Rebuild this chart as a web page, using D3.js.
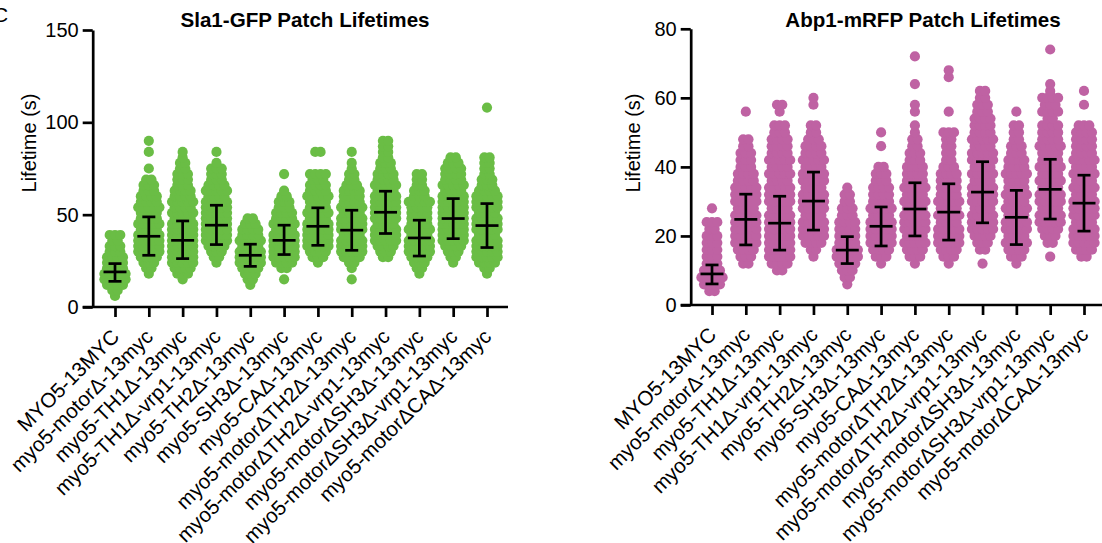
<!DOCTYPE html>
<html>
<head>
<meta charset="utf-8">
<script src="https://cdn.jsdelivr.net/npm/d3@7/dist/d3.min.js"></script>
<style>
  body { margin: 0; background: #fff; }
  svg text { font-family: "Liberation Sans", Arial, Helvetica, sans-serif; }
</style>
</head>
<body>
<div id="chart"></div>
<script>
// strains, same order on both panels
const categories = [
  "MYO5-13MYC",
  "myo5-motorΔ-13myc",
  "myo5-TH1Δ-13myc",
  "myo5-TH1Δ-vrp1-13myc",
  "myo5-TH2Δ-13myc",
  "myo5-SH3Δ-13myc",
  "myo5-CAΔ-13myc",
  "myo5-motorΔTH2Δ-13myc",
  "myo5-motorΔTH2Δ-vrp1-13myc",
  "myo5-motorΔSH3Δ-13myc",
  "myo5-motorΔSH3Δ-vrp1-13myc",
  "myo5-motorΔCAΔ-13myc",
];

const sla1Bins = [6, 9, 12, 15, 18, 21, 24, 27, 30, 33, 36, 39, 42, 45, 48, 51, 54, 57,
  60, 63, 66, 69, 72, 75, 78, 81, 84, 87, 90, 93, 96, 99, 102, 105, 108, 111];
const sla1Counts = [
  [1,2,4,5,5,4,4,4,3,3,2,3, 0,0,0,0,0,0,0,0,0,0,0,0, 0,0,0,0,0,0,0,0,0,0,0,0],
  [0,0,0,0,1,2,3,4,5,5,5,5, 4,5,4,4,5,4,4,3,3,2,0,1, 0,0,1,0,1,0,0,0,0,0,0,0],
  [0,0,0,1,3,4,5,5,5,5,5,5, 5,5,4,5,4,5,4,4,3,3,3,2, 2,1,1,0,0,0,0,0,0,0,0,0],
  [0,0,0,0,0,0,1,2,3,4,5,5, 5,5,5,5,5,5,4,5,4,3,3,3, 1,0,1,0,0,0,0,0,0,0,0,0],
  [0,0,1,2,3,4,5,5,5,4,5,4, 4,3,2,0,0,0,0,0,0,0,0,0, 0,0,0,0,0,0,0,0,0,0,0,0],
  [0,0,0,1,0,2,4,5,5,5,5,5, 4,5,4,4,3,3,2,1,0,0,1,0, 0,0,0,0,0,0,0,0,0,0,0,0],
  [0,0,0,0,0,0,1,3,4,5,5,5, 5,5,4,5,4,4,5,4,4,3,4,0, 0,0,2,0,0,0,0,0,0,0,0,0],
  [0,0,0,1,0,1,2,4,5,5,5,4, 5,5,5,4,5,4,4,4,3,2,2,1, 1,0,1,0,0,0,0,0,0,0,0,0],
  [0,0,0,0,0,0,0,2,3,4,5,5, 5,4,5,5,5,5,5,4,5,4,4,3, 3,2,2,2,2,0,0,0,0,0,0,0],
  [0,0,0,0,1,2,3,4,5,5,5,4, 5,4,4,4,4,5,3,3,2,2,2,0, 0,0,0,0,0,0,0,0,0,0,0,0],
  [0,0,0,0,0,0,1,2,3,4,5,5, 5,5,5,5,5,5,5,4,5,4,4,4, 3,2,0,0,0,0,0,0,0,0,0,0],
  [0,0,0,0,1,2,4,5,5,5,5,4, 5,5,5,4,5,5,5,4,3,3,2,2, 2,2,0,0,0,0,0,0,0,0,1,0],
];
const sla1Median = [19.0, 38.3, 36.1, 44.3, 28.0, 36.1, 43.7, 41.6, 51.3, 37.4, 47.9, 44.1];
const sla1Q1 = [13.9, 28.0, 26.2, 33.8, 22.0, 28.4, 33.4, 30.7, 39.8, 27.6, 37.0, 32.2];
const sla1Q3 = [23.5, 48.8, 46.6, 55.1, 34.0, 44.3, 53.7, 52.4, 62.7, 47.0, 58.7, 56.0];
const sla1Ticks = [0, 50, 100, 150];

// Abp1-mRFP
const abp1Bins = [2, 4, 6, 8, 10, 12, 14, 16, 18, 20, 22, 24, 26, 28, 30, 32, 34, 36, 38,
  40, 42, 44, 46, 48, 50, 52, 54, 56, 58, 60, 62, 64, 66, 68, 70, 72, 74, 76];
const abp1Counts = [
  [0,2,4,5,4,3,3,3,3,3, 2,3,0,1,0,0,0,0,0,0, 0,0,0,0,0,0,0,0,0,0, 0,0,0,0,0,0,0,0],
  [0,0,0,0,0,2,3,4,5,5, 5,5,5,4,5,5,5,4,4,3, 3,3,2,2,0,0,0,1,0,0, 0,0,0,0,0,0,0,0],
  [0,0,0,0,2,4,5,5,5,5, 5,5,5,4,5,5,5,4,5,4, 5,4,4,4,3,3,0,1,2,0, 0,0,0,0,0,0,0,0],
  [0,0,0,0,0,0,1,2,4,5, 5,5,4,5,5,5,4,5,5,4, 5,4,4,3,2,2,0,0,1,1, 0,0,0,0,0,0,0,0],
  [0,0,1,2,3,4,5,5,4,4, 4,4,3,3,2,2,1,0,0,0, 0,0,0,0,0,0,0,0,0,0, 0,0,0,0,0,0,0,0],
  [0,0,0,0,0,1,3,4,5,5, 5,5,4,5,4,4,4,3,3,2, 0,0,1,0,1,0,0,0,0,0, 0,0,0,0,0,0,0,0],
  [0,0,0,0,0,1,3,4,5,4, 5,5,5,4,5,4,5,4,4,4, 3,3,2,2,1,1,0,1,1,0, 0,1,0,0,0,1,0,0],
  [0,0,0,0,0,1,3,4,5,5, 5,4,5,4,5,4,4,4,4,3, 2,2,2,2,3,0,0,1,0,0, 0,0,1,1,0,0,0,0],
  [0,0,0,0,0,1,0,2,3,4, 5,5,5,4,5,5,5,4,5,4, 5,5,4,5,4,4,4,3,3,2, 2,0,0,0,0,0,0,0],
  [0,0,0,0,0,1,3,4,5,4, 5,5,4,5,4,5,4,4,5,4, 4,3,3,2,2,2,0,1,0,0, 0,0,0,0,0,0,0,0],
  [0,0,0,0,0,0,1,0,2,3, 4,5,5,4,5,5,4,5,4,5, 4,4,5,4,4,4,2,4,3,4, 1,1,0,0,0,0,1,0],
  [0,0,0,0,0,0,2,4,5,5, 5,4,5,5,5,4,5,4,5,4, 5,4,4,4,4,3,0,0,1,0, 1,0,0,0,0,0,0,0],
];
const abp1Median = [9.0, 24.8, 23.7, 30.1, 15.9, 22.8, 27.8, 26.9, 32.7, 25.4, 33.5, 29.5];
const abp1Q1 = [6.1, 17.4, 15.9, 21.7, 12.0, 17.1, 20.0, 18.8, 23.8, 17.5, 24.9, 21.4];
const abp1Q3 = [11.6, 32.1, 31.5, 38.5, 19.8, 28.4, 35.4, 35.1, 41.5, 33.2, 42.2, 37.6];
const abp1Ticks = [0, 20, 40, 60, 80];

const svg = d3.select("#chart").append("svg")
  .attr("width", 1102)
  .attr("height", 543);

// panel letter, mostly cut off at the left edge
svg.append("text")
  .attr("x", -7)
  .attr("y", 22)
  .style("font-size", "21px")
  .text("C");

function drawPanel(p) {
  const y = d3.scaleLinear()
    .domain([0, p.ticks[p.ticks.length - 1]])
    .range([p.yBottom, p.yTop]);

  const x = d3.scalePoint()
    .domain(categories)
    .range([p.xStart, p.xEnd]);

  const g = svg.append("g");

  // dots, one row per lifetime value
  const dots = [];
  p.counts.forEach((row, gi) => {
    row.forEach((n, bi) => {
      for (let k = 0; k < n; k++) {
        dots.push({
          cat: categories[gi],
          value: p.bins[bi],
          off: (k - (n - 1) / 2) * 5.3,
        });
      }
    });
  });

  g.append("g")
    .selectAll("circle")
    .data(dots)
    .enter()
    .append("circle")
    .attr("cx", (d) => x(d.cat) + d.off)
    .attr("cy", (d) => y(d.value))
    .attr("r", 5.1)
    .attr("fill", p.color);

  // median + interquartile range
  const bars = categories.map((c, i) => ({
    cat: c, med: p.median[i], lo: p.q1[i], hi: p.q3[i],
  }));
  const eb = g.append("g")
    .attr("stroke", "#000")
    .attr("stroke-width", 2.7)
    .selectAll("g")
    .data(bars)
    .enter()
    .append("g");

  eb.append("line")
    .attr("x1", (d) => x(d.cat)).attr("x2", (d) => x(d.cat))
    .attr("y1", (d) => y(d.lo)).attr("y2", (d) => y(d.hi));
  eb.append("line")
    .attr("x1", (d) => x(d.cat) - 6.5).attr("x2", (d) => x(d.cat) + 6.5)
    .attr("y1", (d) => y(d.lo)).attr("y2", (d) => y(d.lo));
  eb.append("line")
    .attr("x1", (d) => x(d.cat) - 6.5).attr("x2", (d) => x(d.cat) + 6.5)
    .attr("y1", (d) => y(d.hi)).attr("y2", (d) => y(d.hi));
  eb.append("line")
    .attr("x1", (d) => x(d.cat) - 11.5).attr("x2", (d) => x(d.cat) + 11.5)
    .attr("y1", (d) => y(d.med)).attr("y2", (d) => y(d.med));

  // y axis
  const yAxis = g.append("g")
    .attr("transform", `translate(${p.axisX},0)`)
    .call(d3.axisLeft(y).tickValues(p.ticks).tickSize(10).tickSizeOuter(0).tickPadding(4));
  yAxis.selectAll("path, line").attr("stroke", "#000").attr("stroke-width", 2.7);
  yAxis.selectAll("text").attr("fill", "#000").style("font-size", "20px");

  // x axis
  const xAxis = g.append("g")
    .attr("transform", `translate(0,${p.yBottom})`)
    .call(d3.axisBottom(x).tickSize(10).tickSizeOuter(0));
  xAxis.select(".domain").remove();
  xAxis.append("line")
    .attr("x1", p.axisX - 10)
    .attr("x2", p.lineEnd)
    .attr("stroke", "#000")
    .attr("stroke-width", 2.7);
  xAxis.selectAll(".tick line").attr("stroke", "#000").attr("stroke-width", 2.7);
  xAxis.selectAll(".tick text")
    .attr("x", 0)
    .attr("y", 0)
    .attr("dy", null)
    .attr("transform", "translate(5,31) rotate(-45)")
    .attr("fill", "#000")
    .style("text-anchor", "end")
    .style("font-size", "20.6px");

  // titles
  g.append("text")
    .attr("x", p.titleX)
    .attr("y", 27)
    .style("text-anchor", "middle")
    .style("font-size", "20.6px")
    .style("font-weight", "bold")
    .text(p.title);

  g.append("text")
    .attr("transform", `translate(${p.labelX},${143}) rotate(-90)`)
    .style("text-anchor", "middle")
    .style("font-size", "20px")
    .text("Lifetime (s)");
}

drawPanel({
  title: "Sla1-GFP Patch Lifetimes",
  color: "#6abd45",
  bins: sla1Bins, counts: sla1Counts,
  median: sla1Median, q1: sla1Q1, q3: sla1Q3, ticks: sla1Ticks,
  axisX: 92.7, xStart: 115, xEnd: 487, yTop: 30, yBottom: 307, lineEnd: 508,
  titleX: 305, labelX: 36,
});

drawPanel({
  title: "Abp1-mRFP Patch Lifetimes",
  color: "#bf62a3",
  bins: abp1Bins, counts: abp1Counts,
  median: abp1Median, q1: abp1Q1, q3: abp1Q3, ticks: abp1Ticks,
  axisX: 690.7, xStart: 712, xEnd: 1084, yTop: 28.8, yBottom: 305, lineEnd: 1104,
  titleX: 923, labelX: 640,
});
</script>
</body>
</html>
